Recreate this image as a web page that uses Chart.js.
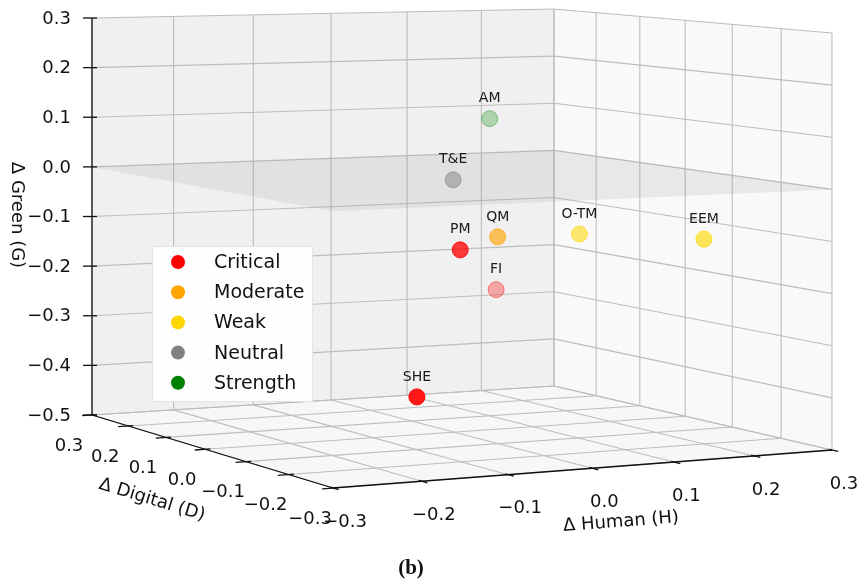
<!DOCTYPE html>
<html>
<head>
<meta charset="utf-8">
<script src="https://cdn.jsdelivr.net/npm/chart.js@4.4.0/dist/chart.umd.min.js"></script>
<style>
  html, body { margin: 0; padding: 0; background: #ffffff; }
  #wrap { width: 861px; height: 583px; }
</style>
</head>
<body>
<div id="wrap"><canvas id="myChart" width="861" height="583"></canvas></div>
<script>
// Data
var codes = ["SHE", "PM", "FI", "QM", "O-TM", "EEM", "T&E", "AM"];
var deltaH = [-0.11, -0.025, 0.17, 0.055, 0.16, 0.25, 0.064, 0.178];
var deltaD = [-0.12, -0.06, 0.21, 0.0, 0.0, -0.12, 0.12, 0.24];
var deltaG = [-0.394, -0.13, -0.27, -0.12, -0.122, -0.12, -0.024, 0.08];
var level = ["Critical", "Critical", "Critical", "Moderate", "Weak", "Weak", "Neutral", "Strength"];
var categories = ["Critical", "Moderate", "Weak", "Neutral", "Strength"];
var hTicks = [-0.3, -0.2, -0.1, 0.0, 0.1, 0.2, 0.3];
var dTicks = [-0.3, -0.2, -0.1, 0.0, 0.1, 0.2, 0.3];
var gTicks = [-0.5, -0.4, -0.3, -0.2, -0.1, 0.0, 0.1, 0.2, 0.3];

// colours
var catColors = { Critical: [255, 0, 0], Moderate: [255, 165, 0], Weak: [255, 215, 0], Neutral: [128, 128, 128], Strength: [0, 128, 0] };

// axis limits
var H0 = -0.3, H1 = 0.3, D0 = -0.3, D1 = 0.3, G0 = -0.5, G1 = 0.3;

// camera: floor corners (front, right, back, left) and top of the three back edges, in page pixels
var floorPix = [[333, 488], [832, 450], [554, 386], [92, 415]];
var topY = { right: 33, back: 9, left: 18 };

// square -> floor quad homography
function makeCamera() {
  var x0 = floorPix[0][0], y0 = floorPix[0][1], x1 = floorPix[1][0], y1 = floorPix[1][1];
  var x2 = floorPix[2][0], y2 = floorPix[2][1], x3 = floorPix[3][0], y3 = floorPix[3][1];
  var dx1 = x1 - x2, dx2 = x3 - x2, dx3 = x0 - x1 + x2 - x3;
  var dy1 = y1 - y2, dy2 = y3 - y2, dy3 = y0 - y1 + y2 - y3;
  var den = dx1 * dy2 - dx2 * dy1;
  var g = (dx3 * dy2 - dx2 * dy3) / den, h = (dx1 * dy3 - dx3 * dy1) / den;
  var cam = {
    g: g, h: h,
    a: x1 - x0 + g * x1, b: x3 - x0 + h * x3, c: x0,
    d: y1 - y0 + g * y1, e: y3 - y0 + h * y3, f: y0
  };
  // wall height * depth, linear over the floor
  var sl = (y3 - topY.left) * (1 + h), sr = (y1 - topY.right) * (1 + g), sb = (y2 - topY.back) * (1 + g + h);
  cam.sC = sb - sr; cam.sB = sb - sl; cam.sA = sl - cam.sC;
  return cam;
}
var cam = makeCamera();

function proj(H, D, G) {
  var u = (H - H0) / (H1 - H0), v = (D - D0) / (D1 - D0);
  var w = 1 + cam.g * u + cam.h * v;
  var x = (cam.a * u + cam.b * v + cam.c) / w;
  var yf = (cam.d * u + cam.e * v + cam.f) / w;
  var s = (cam.sA + cam.sB * u + cam.sC * v) / w;
  return { x: x, y: yf - s * (G - G0) / (G1 - G0), w: w };
}

// depth shading like matplotlib (far points fade)
var depths = codes.map(function (c, i) { return proj(deltaH[i], deltaD[i], deltaG[i]).w; });
var wMin = Math.min.apply(null, depths), wMax = Math.max.apply(null, depths);
function rgba(c, a) { return "rgba(" + c[0] + "," + c[1] + "," + c[2] + "," + a + ")"; }

var datasets = categories.map(function (cat) {
  var pts = [], fills = [], edges = [];
  codes.forEach(function (code, i) {
    if (level[i] != cat) return;
    var p = proj(deltaH[i], deltaD[i], deltaG[i]);
    var a = 0.9 * (1 - 0.7 * (p.w - wMin) / (wMax - wMin));
    pts.push({ x: p.x, y: p.y, code: code });
    fills.push(rgba(catColors[cat], a.toFixed(3)));
    edges.push(rgba(catColors[cat], Math.min(1, a + 0.1).toFixed(3)));
  });
  return {
    label: cat,
    data: pts,
    backgroundColor: fills,
    borderColor: edges,
    borderWidth: 1,
    pointRadius: 8,
    pointHoverRadius: 8,
    clip: false
  };
});

function fmt(v) { return v.toFixed(1).replace("-", "\u2212"); }

var box3d = {
  id: "box3d",
  beforeDatasetsDraw: function (chart) {
    var ctx = chart.ctx, sx = chart.scales.x, sy = chart.scales.y;
    function px(h, d, g) { var p = proj(h, d, g); return [sx.getPixelForValue(p.x), sy.getPixelForValue(p.y)]; }
    function poly(pts, fill) {
      ctx.beginPath();
      pts.forEach(function (p, i) { var q = px(p[0], p[1], p[2]); if (i == 0) ctx.moveTo(q[0], q[1]); else ctx.lineTo(q[0], q[1]); });
      ctx.closePath(); ctx.fillStyle = fill; ctx.fill();
    }
    function line(a, b2, color, width) {
      var p = px(a[0], a[1], a[2]), q = px(b2[0], b2[1], b2[2]);
      ctx.beginPath(); ctx.moveTo(p[0], p[1]); ctx.lineTo(q[0], q[1]);
      ctx.strokeStyle = color; ctx.lineWidth = width; ctx.stroke();
    }
    ctx.save();
    // panes
    poly([[H0, D1, G0], [H1, D1, G0], [H1, D1, G1], [H0, D1, G1]], "#f0f0f0");
    poly([[H1, D1, G0], [H1, D0, G0], [H1, D0, G1], [H1, D1, G1]], "#f9f9f9");
    poly([[H0, D1, G0], [H1, D1, G0], [H1, D0, G0], [H0, D0, G0]], "#f7f7f7");
    // grid
    var gc = "#bdbdbd";
    gTicks.forEach(function (g) {
      line([H0, D1, g], [H1, D1, g], gc, 1.1);
      line([H1, D1, g], [H1, D0, g], gc, 1.1);
    });
    hTicks.forEach(function (h) {
      line([h, D1, G0], [h, D1, G1], gc, 1.1);
      line([h, D1, G0], [h, D0, G0], gc, 1.1);
    });
    dTicks.forEach(function (d) {
      line([H1, d, G0], [H1, d, G1], gc, 1.1);
      line([H0, d, G0], [H1, d, G0], gc, 1.1);
    });
    // zero plane
    poly([[H0, D0, 0], [H0, D1, 0], [H1, D1, 0], [H1, D0, 0]], "rgba(120,120,120,0.13)");
    // axis lines
    line([H0, D1, G0], [H0, D1, G1], "#111", 1.3);
    line([H0, D1, G0], [H0, D0, G0], "#111", 1.3);
    line([H0, D0, G0], [H1, D0, G0], "#111", 1.3);
    ctx.strokeStyle = "#111"; ctx.lineWidth = 1.3;
    ctx.fillStyle = "#111";
    ctx.font = "18px 'DejaVu Sans'";
    ctx.textBaseline = "middle";
    // G ticks
    ctx.textAlign = "right";
    gTicks.forEach(function (g) {
      var p = px(H0, D1, g);
      ctx.beginPath(); ctx.moveTo(p[0] - 9, p[1]); ctx.lineTo(p[0] + 5, p[1]); ctx.stroke();
      ctx.fillText(fmt(g), p[0] - 21, p[1] + 1);
    });
    ctx.textAlign = "center";
    // D ticks
    dTicks.forEach(function (d) {
      line([H0 - 0.012, d, G0], [H0 + 0.006, d, G0], "#111", 1.3);
      var p = px(H0, d, G0);
      ctx.fillText(fmt(d), p[0] - 23, p[1] + 31);
    });
    // H ticks
    hTicks.forEach(function (h) {
      line([h, D0 - 0.012, G0], [h, D0 + 0.006, G0], "#111", 1.3);
      var p = px(h, D0, G0);
      ctx.fillText(fmt(h), p[0] + 12, p[1] + 34);
    });
    // axis titles
    ctx.save(); ctx.translate(17, 215); ctx.rotate(Math.PI / 2);
    ctx.fillText("\u0394 Green (G)", 0, 0); ctx.restore();
    ctx.save(); ctx.translate(152, 500); ctx.rotate(17 * Math.PI / 180);
    ctx.fillText("\u0394 Digital (D)", 0, 0); ctx.restore();
    ctx.save(); ctx.translate(621, 522); ctx.rotate(-4.4 * Math.PI / 180);
    ctx.fillText("\u0394 Human (H)", 0, 0); ctx.restore();
    ctx.restore();
  },
  afterDatasetsDraw: function (chart) {
    var ctx = chart.ctx;
    ctx.save();
    // point labels
    ctx.font = "14px 'DejaVu Sans'";
    ctx.fillStyle = "#1a1a1a";
    ctx.textAlign = "center";
    ctx.textBaseline = "middle";
    chart.data.datasets.forEach(function (ds, di) {
      chart.getDatasetMeta(di).data.forEach(function (el, i) {
        ctx.fillText(ds.data[i].code, el.x, el.y - 20);
      });
    });
    // legend
    ctx.fillStyle = "rgba(255,255,255,0.92)";
    ctx.strokeStyle = "#e4e4e4";
    ctx.lineWidth = 1;
    ctx.fillRect(152.5, 246.5, 160, 155);
    ctx.strokeRect(152.5, 246.5, 160, 155);
    ctx.font = "19px 'DejaVu Sans'";
    ctx.textAlign = "left";
    categories.forEach(function (cat, i) {
      var y = 262 + i * 30.2;
      ctx.beginPath(); ctx.arc(178, y, 7, 0, Math.PI * 2);
      ctx.fillStyle = rgba(catColors[cat], 1); ctx.fill();
      ctx.fillStyle = "#111";
      ctx.fillText(cat, 214, y + 1);
    });
    // caption
    ctx.font = "bold 21px 'Liberation Serif'";
    ctx.textAlign = "center";
    ctx.fillText("(b)", 411, 569);
    ctx.restore();
  }
};

var ctx = document.getElementById("myChart").getContext("2d");
var myChart = new Chart(ctx, {
  type: "scatter",
  data: { datasets: datasets },
  options: {
    responsive: false,
    animation: false,
    devicePixelRatio: 1,
    layout: { padding: 0, autoPadding: false },
    events: [],
    plugins: { legend: { display: false }, tooltip: { enabled: false } },
    scales: {
      x: { type: "linear", min: 0, max: 861, display: false },
      y: { type: "linear", min: 0, max: 583, reverse: true, display: false }
    }
  },
  plugins: [box3d]
});
</script>
</body>
</html>
